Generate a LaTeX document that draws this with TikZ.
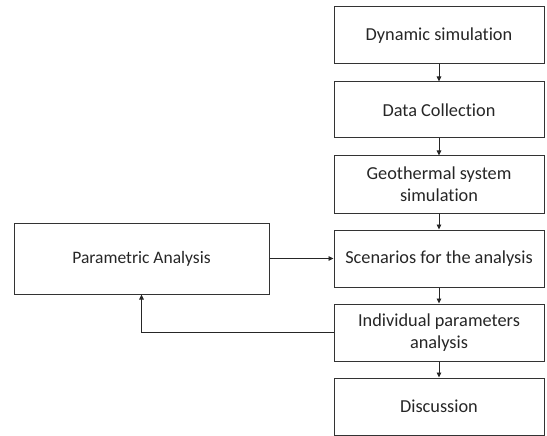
\documentclass[tikz,border=0pt]{standalone}
\usepackage{fontspec}
\setmainfont[Ligatures=NoCommon]{Carlito}
\usetikzlibrary{arrows.meta}
\begin{document}
\begin{tikzpicture}[x=1pt,y=-1pt,
  box/.style={draw=black!80, line width=1pt, inner sep=0pt, align=center,
    font=\fontsize{18.3}{22}\selectfont, text=black!85},
  conn/.style={draw=black!85, line width=0.9pt, -{Triangle[length=5pt,width=4.5pt]}}]
\useasboundingbox (0,0) rectangle (547,436);
\node[box, minimum width=210pt, minimum height=57pt] (b1) at (439,35.5) {Dynamic simulation};
\node[box, minimum width=210pt, minimum height=56pt] (b2) at (439,110) {Data Collection};
\node[box, minimum width=210pt, minimum height=57pt] (b3) at (439,184.5) {Geothermal system\\simulation};
\node[box, minimum width=210pt, minimum height=57pt] (b4) at (439,258.5) {Scenarios for the analysis};
\node[box, minimum width=210pt, minimum height=57pt] (b5) at (439,332.5) {Individual parameters\\analysis};
\node[box, minimum width=210pt, minimum height=57pt] (b6) at (439,406.5) {Discussion};
\node[box, minimum width=255pt, minimum height=71pt, font=\fontsize{17.5}{21}\selectfont] (pa) at (141.5,258.5) {Parametric Analysis};
\draw[conn] (b1) -- (b2);
\draw[conn] (b2) -- (b3);
\draw[conn] (b3) -- (b4);
\draw[conn] (b4) -- (b5);
\draw[conn] (b5) -- (b6);
\draw[conn] (pa) -- (b4);
\draw[conn] (b5.west) -| (pa.south);
\end{tikzpicture}
\end{document}
